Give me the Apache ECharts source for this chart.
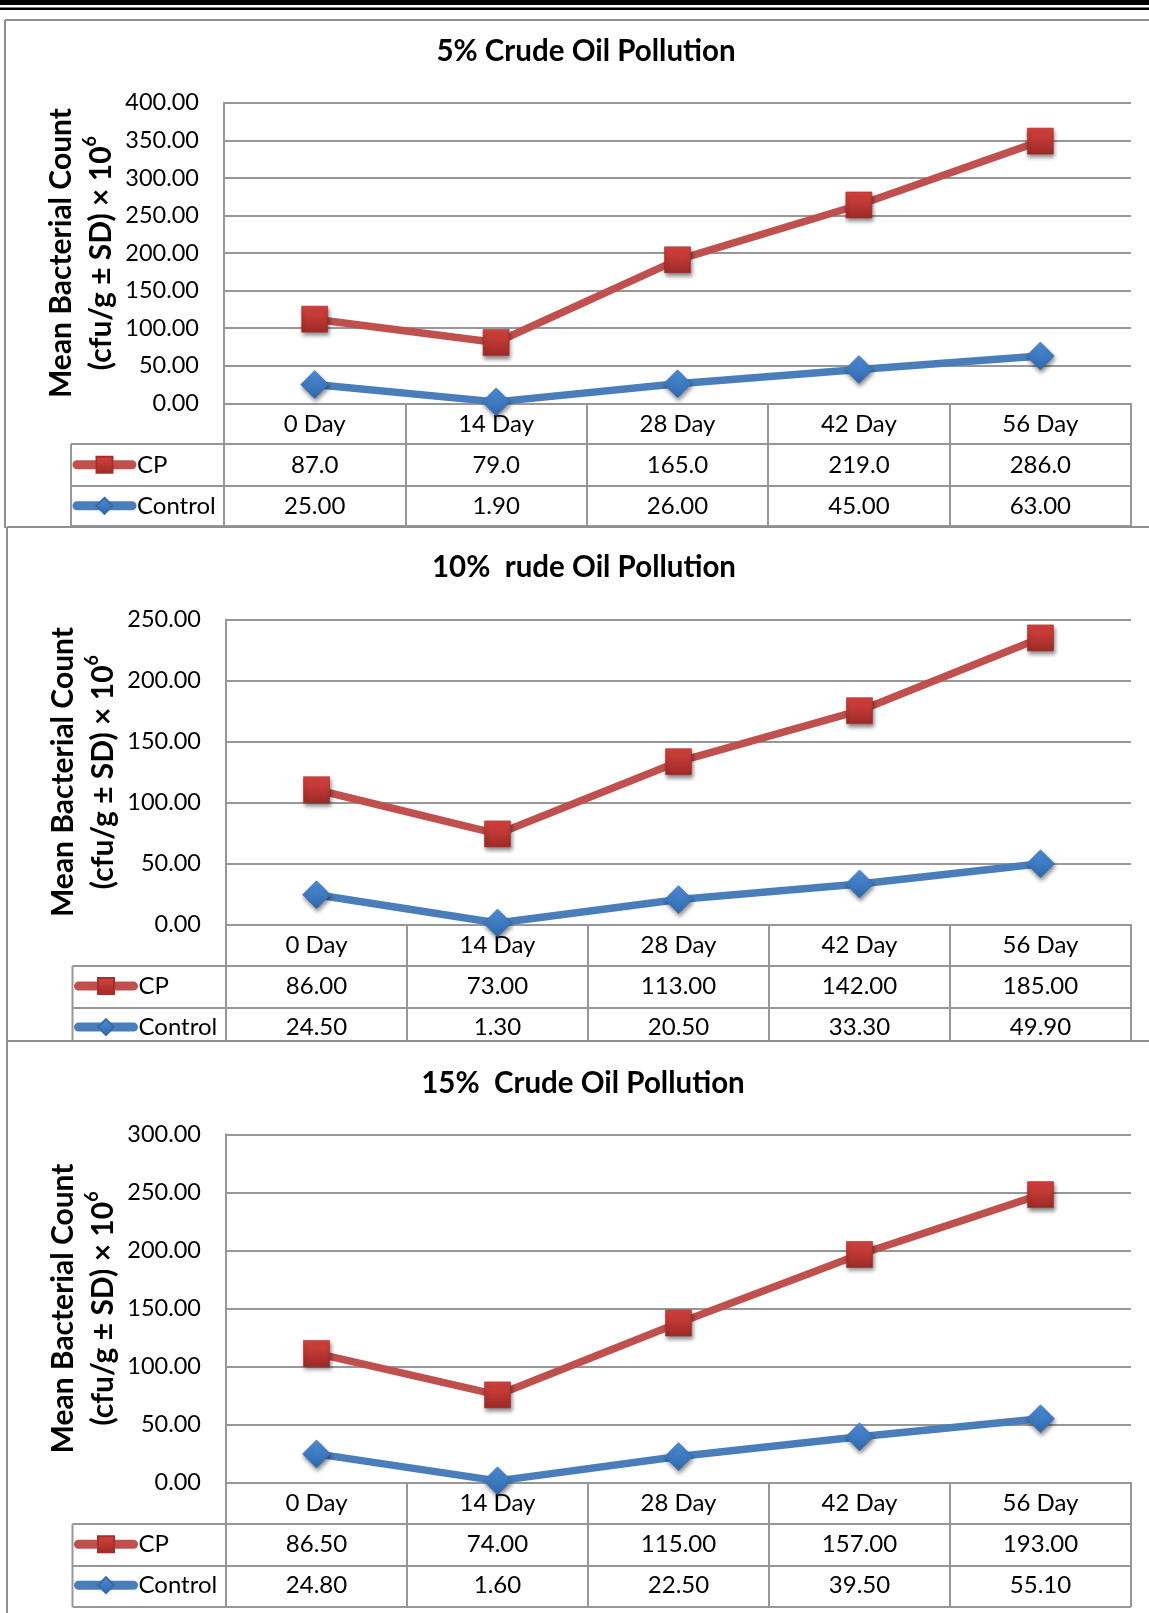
<!DOCTYPE html>
<html><head><meta charset="utf-8">
<script src="https://cdn.jsdelivr.net/npm/echarts@6/dist/echarts.min.js"></script>
<style>html,body{margin:0;padding:0;background:#fff}#c{width:1149px;height:1613px}</style>
</head><body><div id="c"></div>
<script>
// ---- data ----
const categories = ['0 Day', '14 Day', '28 Day', '42 Day', '56 Day'];
const seriesNames = ['CP', 'Control'];
const panelTitles = ['5% Crude Oil Pollution', '10%  rude Oil Pollution', '15%  Crude Oil Pollution'];
const yAxisTitle = 'Mean Bacterial Count\n(cfu/g ± SD) × 10{sup|6}';
const cp5 = [87.0, 79.0, 165.0, 219.0, 286.0];
const control5 = [25.00, 1.90, 26.00, 45.00, 63.00];
const cp10 = [86.00, 73.00, 113.00, 142.00, 185.00];
const control10 = [24.50, 1.30, 20.50, 33.30, 49.90];
const cp15 = [86.50, 74.00, 115.00, 157.00, 193.00];
const control15 = [24.80, 1.60, 22.50, 39.50, 55.10];
const yMaxes = [400, 250, 300];
const yStep = 50;
const cpDecimals = [1, 2, 2];
const controlDecimals = [2, 2, 2];

const cpData = [cp5, cp10, cp15];
const controlData = [control5, control10, control15];

// ---- layout ----
const W = 1149, H = 1613, RIGHT = 1131;
const layout = [
  {frameTop: 20, frameX: 5, titleX: 586, titleY: 51, gridTop: 102.8, gridBottom: 403.3, gridLeft: 224, tableLeft: 71, rowLines: [444, 486, 526]},
  {frameTop: 527, frameX: 7, titleX: 584, titleY: 567.5, gridTop: 619.5, gridBottom: 924.6, gridLeft: 226, tableLeft: 72.5, rowLines: [966, 1008, 1041]},
  {frameTop: 1041, frameX: 7, titleX: 583, titleY: 1083, gridTop: 1134.3, gridBottom: 1482.7, gridLeft: 226, tableLeft: 72.5, rowLines: [1524, 1566, 1607]}
];
const ROW = 41;
const FONT = 'Lato';
const GRID_COLOR = '#979797';
const RED = '#c0504d', BLUE = '#4a7ebb';
const redGrad = {type: 'linear', x: 0, y: 0, x2: 0, y2: 1, colorStops: [{offset: 0, color: '#d9433f'}, {offset: 1, color: '#9c2a27'}]};
const blueGrad = {type: 'linear', x: 0, y: 0, x2: 0, y2: 1, colorStops: [{offset: 0, color: '#4f8fd9'}, {offset: 1, color: '#2e67ad'}]};

const chart = echarts.init(document.getElementById('c'), null, {renderer: 'canvas'});

const grids = [], xAxes = [], yAxes = [], series = [], legends = [], graphics = [];

function gline(x1, y1, x2, y2, color, width) {
  graphics.push({type: 'line', z: 10, shape: {x1, y1, x2, y2}, style: {stroke: color, lineWidth: width}, silent: true});
}

graphics.push({type: 'rect', shape: {x: 0, y: 0, width: W, height: 5}, style: {fill: '#000'}, silent: true});
graphics.push({type: 'rect', shape: {x: 0, y: 7.5, width: W, height: 2.5}, style: {fill: '#000'}, silent: true});

layout.forEach((p, i) => {
  const cps = cpData[i], ctrl = controlData[i];
  grids.push({left: p.gridLeft, top: p.gridTop, width: RIGHT - p.gridLeft, height: p.gridBottom - p.gridTop, containLabel: false, outerBoundsMode: 'none'});
  xAxes.push({
    type: 'category', gridIndex: i, data: categories, boundaryGap: true,
    axisLine: {show: true, lineStyle: {color: GRID_COLOR, width: 2}},
    axisTick: {show: true, length: p.rowLines[2] - p.gridBottom, lineStyle: {color: GRID_COLOR, width: 2}},
    axisLabel: {
      interval: 0, margin: 0, fontFamily: FONT, fontSize: 24, color: '#000', lineHeight: ROW, align: 'center',
      formatter: (v, idx) => v + '\n' + cps[idx].toFixed(cpDecimals[i]) + '\n' + ctrl[idx].toFixed(controlDecimals[i])
    },
    splitLine: {show: false}
  });
  yAxes.push({
    type: 'value', gridIndex: i, min: 0, max: yMaxes[i], interval: yStep,
    axisLine: {show: true, lineStyle: {color: GRID_COLOR, width: 2}},
    axisTick: {show: false},
    splitLine: {show: true, lineStyle: {color: GRID_COLOR, width: 2}},
    axisLabel: {margin: 25, fontFamily: FONT, fontSize: 23.5, color: '#000', formatter: v => v.toFixed(2)},
    name: yAxisTitle, nameLocation: 'middle', nameRotate: 90, nameGap: 103, nameMoveOverlap: false,
    nameTextStyle: {
      fontFamily: FONT, fontWeight: 'bold', fontSize: 30, color: '#000', lineHeight: 40, align: 'center',
      rich: {sup: {fontFamily: FONT, fontWeight: 'bold', fontSize: 18, color: '#000', verticalAlign: 'top', lineHeight: 16}}
    }
  });
  const shadow = {shadowBlur: 4, shadowColor: 'rgba(0,0,0,0.45)', shadowOffsetX: 1, shadowOffsetY: 3};
  series.push({
    name: seriesNames[1], type: 'line', xAxisIndex: i, yAxisIndex: i, stack: 'total' + i, data: ctrl,
    symbol: 'diamond', symbolSize: [28, 28], showAllSymbol: true,
    lineStyle: {color: BLUE, width: 7.5, cap: 'round'},
    itemStyle: Object.assign({color: blueGrad, borderColor: '#3a6aa6', borderWidth: 0.6}, shadow),
    z: 3, animation: false
  });
  series.push({
    name: seriesNames[0], type: 'line', xAxisIndex: i, yAxisIndex: i, stack: 'total' + i, data: cps,
    symbol: 'rect', symbolSize: [26, 26], showAllSymbol: true,
    lineStyle: {color: RED, width: 7.5, cap: 'round'},
    itemStyle: Object.assign({color: redGrad, borderColor: '#a52e2b', borderWidth: 0.6}, shadow),
    z: 3, animation: false
  });
  legends.push({
    data: seriesNames, orient: 'vertical', left: p.tableLeft + 1.5, top: p.gridBottom + ROW + ROW / 2 - 12,
    padding: 0, itemWidth: 55, itemHeight: 20, itemGap: ROW - 24,
    lineStyle: {width: 9, cap: 'round'},
    textStyle: {fontFamily: FONT, fontSize: 24, color: '#000'},
    selectedMode: false
  });
  // frames and table lines
  const bottom = i < layout.length - 1 ? layout[i + 1].frameTop + 1 : H;
  gline(p.frameX, p.frameTop, p.frameX, bottom, '#8f8f8f', 2);
  gline(p.frameX, p.frameTop, W, p.frameTop, '#8f8f8f', 2);
  p.rowLines.forEach(y => gline(p.tableLeft, y, RIGHT, y, GRID_COLOR, 2));
  gline(p.tableLeft, p.rowLines[0], p.tableLeft, p.rowLines[2], GRID_COLOR, 2);
  graphics.push({type: 'text', z: 10, silent: true, style: {
    text: panelTitles[i], x: p.titleX, y: p.titleY, align: 'center', verticalAlign: 'middle',
    fontFamily: FONT, fontWeight: 'bold', fontSize: 29.5, fill: '#000'}});
});

chart.setOption({
  animation: false,
  backgroundColor: '#fff',
  grid: grids, xAxis: xAxes, yAxis: yAxes, series: series, legend: legends,
  graphic: graphics
});
</script></body></html>
